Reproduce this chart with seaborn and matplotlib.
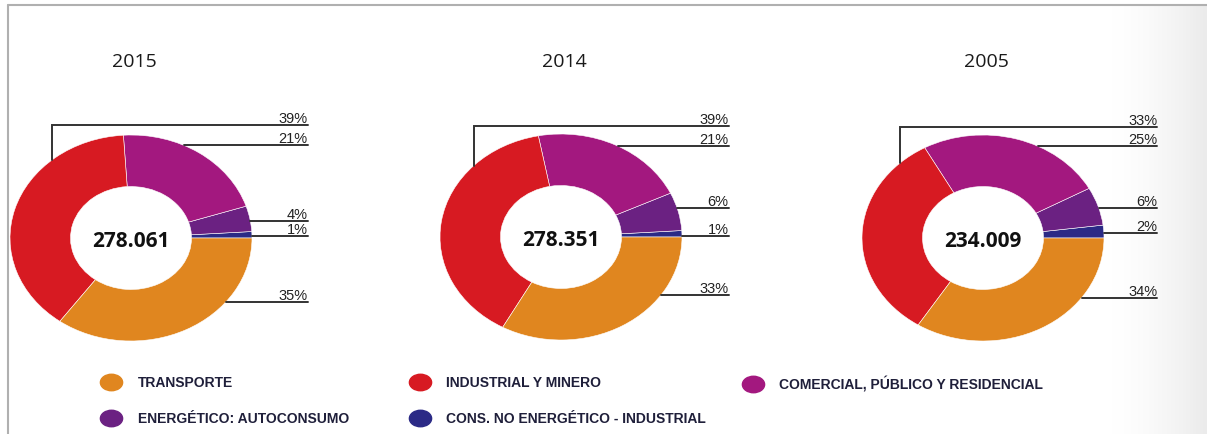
import numpy as np
import matplotlib
matplotlib.use("Agg")
import matplotlib.pyplot as plt
from matplotlib.lines import Line2D
from matplotlib.path import Path
from matplotlib.transforms import Affine2D
from matplotlib.colors import LinearSegmentedColormap
import seaborn as sns

# data (shares in %, counterclockwise from 3 o'clock)
years = ["2015", "2014", "2005"]
totals = ["278.061", "278.351", "234.009"]
sectors = ["CONS. NO ENERGÉTICO - INDUSTRIAL", "ENERGÉTICO: AUTOCONSUMO",
           "COMERCIAL, PÚBLICO Y RESIDENCIAL", "INDUSTRIAL Y MINERO", "TRANSPORTE"]
share_2015 = [1, 4, 21, 39, 35]
share_2014 = [1, 6, 21, 39, 33]
share_2005 = [2, 6, 25, 33, 34]
colors = ["#2b2a86", "#6b2182", "#a3187f", "#d71a22", "#e0861f"]

# layout: donut centres (px), leader line heights per sector, elbow x, line end
centers = [(131, 238), (561, 237), (983, 238)]
label_y = [[0.02, 0.165, 0.90, 1.10, -0.62],
           [0.01, 0.28, 0.88, 1.08, -0.56],
           [0.05, 0.29, 0.89, 1.08, -0.58]]
elbow_x = [-0.65, -0.72, -0.69]
line_end = [1.46, 1.385, 1.44]

sns.set_theme(style="white")
plt.rcParams["font.family"] = ["Open Sans", "DejaVu Sans"]

W, H = 1207, 434
RX, RY = 121, 103
XL, YL = (-1.15, 1.65), (-1.1, 1.35)
fig = plt.figure(figsize=(W / 100, H / 100), dpi=100)

# page shadow on the right
cmap = LinearSegmentedColormap.from_list("shade", ["#ffffff", "#ebebeb"])
gax = fig.add_axes([1110 / W, 0, 97 / W, (H - 6) / H], zorder=-5)
gax.imshow(np.linspace(0, 1, 100)[None, :] ** 1.5, cmap=cmap, aspect="auto", vmin=0, vmax=1)
gax.axis("off")

shares = [share_2015, share_2014, share_2005]
for i, vals in enumerate(shares):
    cx, cy = centers[i]
    left = cx + XL[0] * RX
    bottom = (H - cy) + YL[0] * RY
    ax = fig.add_axes([left / W, bottom / H, (XL[1] - XL[0]) * RX / W, (YL[1] - YL[0]) * RY / H])
    ax.pie(vals, colors=colors, startangle=0, counterclock=True, radius=1,
           wedgeprops=dict(width=0.5, edgecolor="white", linewidth=0.4))
    ax.set_aspect("auto")
    ax.set_xlim(XL)
    ax.set_ylim(YL)
    ax.axis("off")
    ax.text(0, -0.03, totals[i], ha="center", va="center", fontsize=15,
            fontweight="bold", color="#111111")
    xe = line_end[i]
    for j, v in enumerate(vals):
        ly = label_y[i][j]
        if j == 3:
            vx = elbow_x[i]
            y0 = np.sqrt(1 - vx ** 2)
            ax.plot([vx, vx, xe], [y0, ly, ly], color="#333333", lw=1.4,
                    solid_joinstyle="miter", clip_on=False)
        else:
            x0 = np.sqrt(max(1 - ly ** 2, 0))
            ax.plot([x0, xe], [ly, ly], color="#333333", lw=1.4, clip_on=False)
        ax.text(xe, ly + 0.02, f"{v}%", ha="right", va="baseline", fontsize=10.5,
                family=["Liberation Sans", "DejaVu Sans"], color="#222222", clip_on=False)
    fig.text(cx / W + 3 / W, 1 - 62 / H, years[i], ha="center", va="center",
             fontsize=14, color="#1a1a1a")

# legend in three columns
ell = Path.unit_circle().transformed(Affine2D().scale(1.35, 1.0))
def handle(c):
    return Line2D([], [], marker=ell, linestyle="none", markersize=16,
                  markerfacecolor=c, markeredgecolor=c)

groups = [[4, 1], [3, 0], [2]]
col_x = [100, 409, 741.5]
for g, x in zip(groups, col_x):
    fig.legend([handle(colors[k]) for k in g], [sectors[k] for k in g],
               loc="upper left", bbox_to_anchor=(x / W, 1 - 376 / H),
               frameon=False, borderpad=0, borderaxespad=0, handlelength=1.6,
               handletextpad=1.1, labelspacing=1.6,
               prop=dict(family=["Liberation Sans", "DejaVu Sans"],
                         weight="bold", size=10), labelcolor="#1f1f3a")

# frame lines of the page
fig.add_artist(Line2D([8 / W, 8 / W], [0, 1 - 5 / H], transform=fig.transFigure,
                      color="#b0b0b0", lw=1.5))
fig.add_artist(Line2D([8 / W, 1], [1 - 5 / H, 1 - 5 / H], transform=fig.transFigure,
                      color="#b0b0b0", lw=1.5))

fig.savefig("out.png", dpi=100)
